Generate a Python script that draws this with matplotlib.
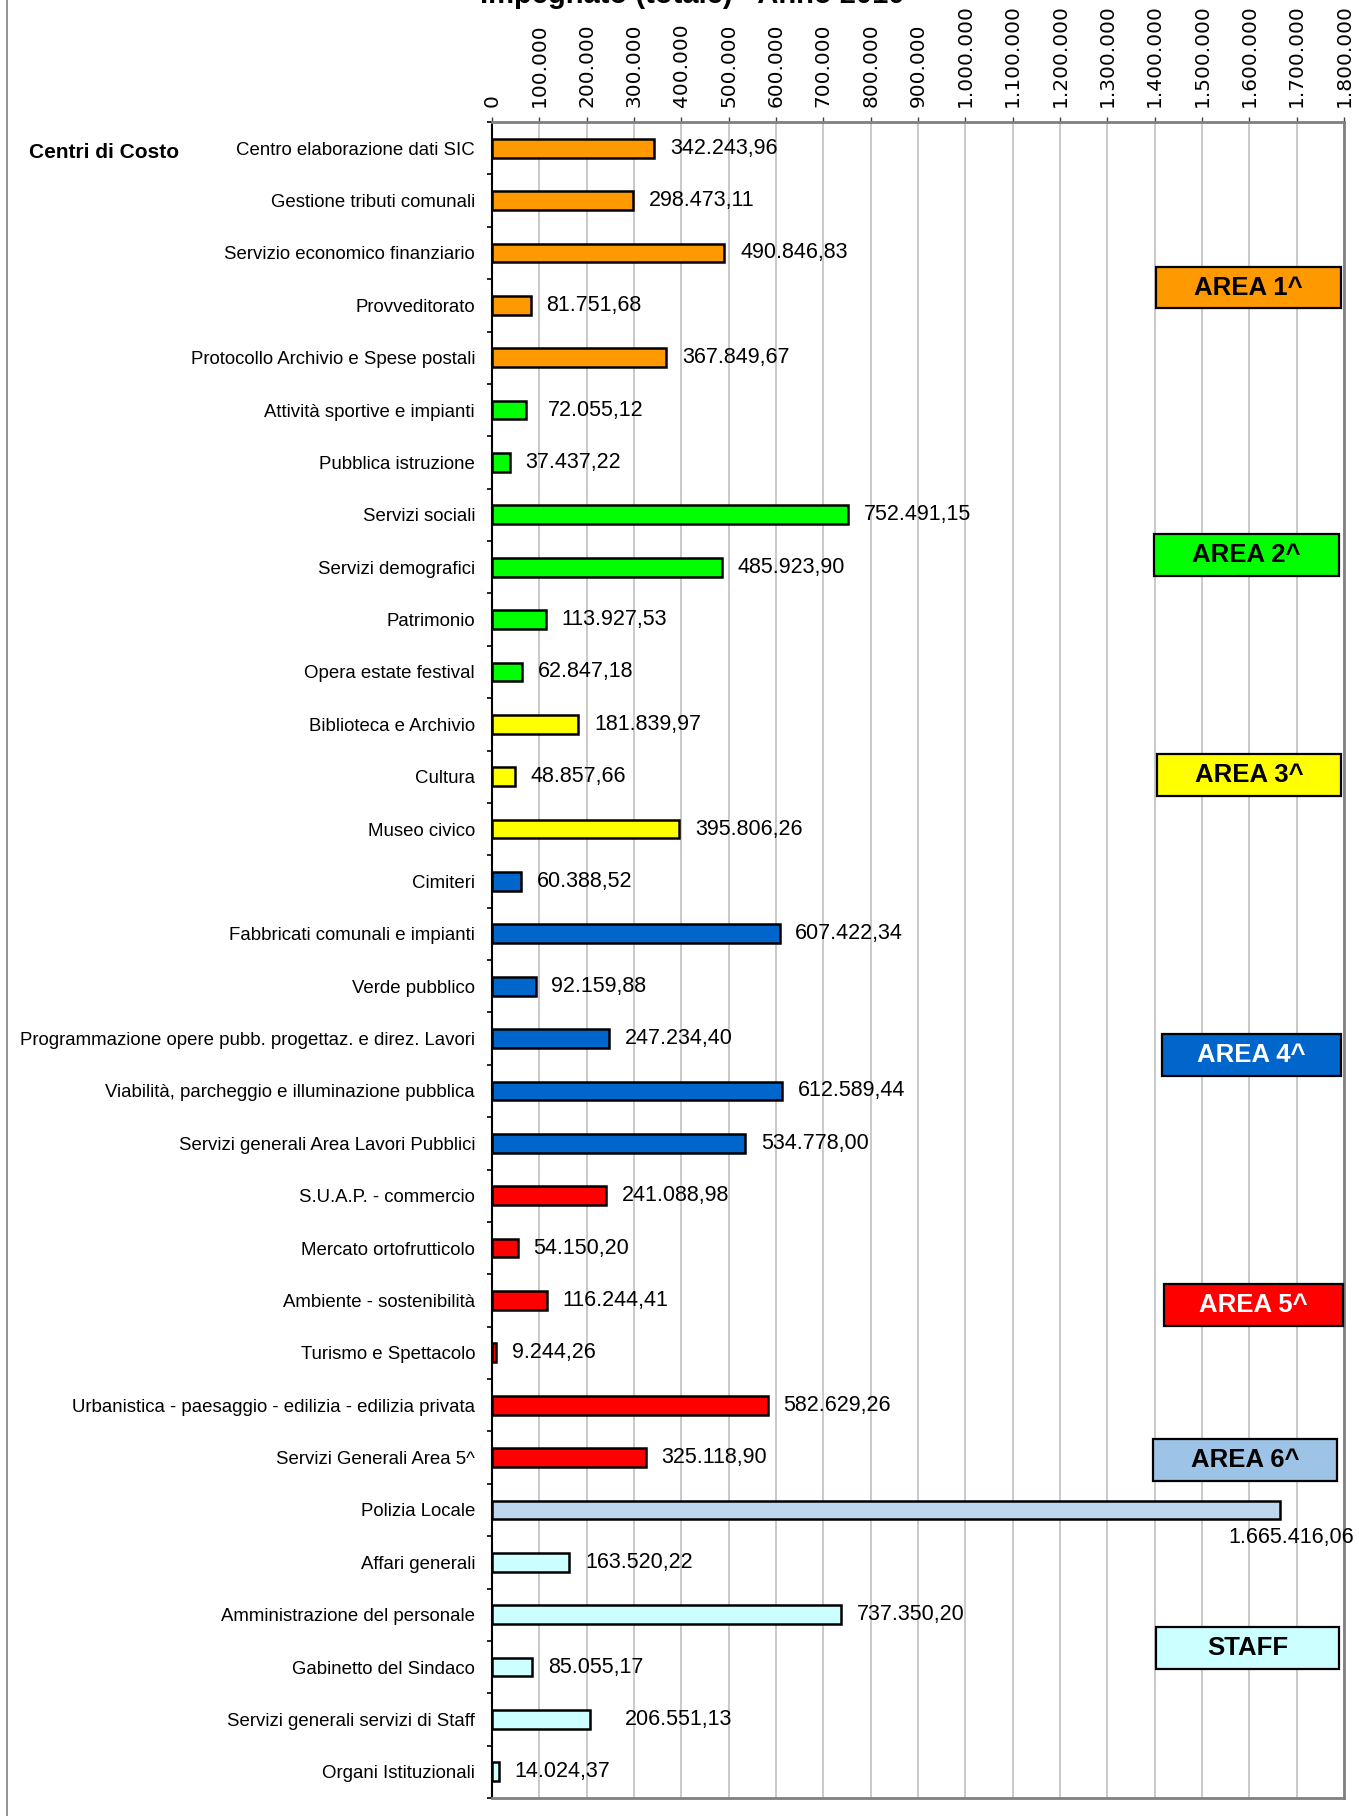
import numpy as np
import matplotlib.pyplot as plt
from matplotlib.patches import Rectangle
from matplotlib.lines import Line2D

plt.rcParams['font.family'] = ['Liberation Sans', 'DejaVu Sans']

# centri di costo, nell'ordine in cui compaiono dall'alto
centri = [
    "Centro elaborazione dati SIC",
    "Gestione tributi comunali",
    "Servizio economico finanziario",
    "Provveditorato",
    "Protocollo Archivio e Spese postali",
    "Attività sportive e impianti",
    "Pubblica istruzione",
    "Servizi sociali",
    "Servizi demografici",
    "Patrimonio",
    "Opera estate festival",
    "Biblioteca e Archivio",
    "Cultura",
    "Museo civico",
    "Cimiteri",
    "Fabbricati comunali e impianti",
    "Verde pubblico",
    "Programmazione opere pubb. progettaz. e direz. Lavori",
    "Viabilità, parcheggio e illuminazione pubblica",
    "Servizi generali Area Lavori Pubblici",
    "S.U.A.P. - commercio",
    "Mercato ortofrutticolo",
    "Ambiente - sostenibilità",
    "Turismo e Spettacolo",
    "Urbanistica - paesaggio - edilizia - edilizia privata",
    "Servizi Generali Area 5^",
    "Polizia Locale",
    "Affari generali",
    "Amministrazione del personale",
    "Gabinetto del Sindaco",
    "Servizi generali servizi di Staff",
    "Organi Istituzionali",
]

impegnato = [
    342243.96, 298473.11, 490846.83, 81751.68, 367849.67,
    72055.12, 37437.22, 752491.15, 485923.90, 113927.53, 62847.18,
    181839.97, 48857.66, 395806.26,
    60388.52, 607422.34, 92159.88, 247234.40, 612589.44, 534778.00,
    241088.98, 54150.20, 116244.41, 9244.26, 582629.26, 325118.90,
    1665416.06,
    163520.22, 737350.20, 85055.17, 206551.13, 14024.37,
]

area = (["AREA 1^"] * 5 + ["AREA 2^"] * 6 + ["AREA 3^"] * 3 + ["AREA 4^"] * 6
        + ["AREA 5^"] * 6 + ["AREA 6^"] + ["STAFF"] * 5)

xticks = np.arange(0, 1800001, 100000)

colore_barra = {
    "AREA 1^": "#FF9900", "AREA 2^": "#00FF00", "AREA 3^": "#FFFF00",
    "AREA 4^": "#0066CC", "AREA 5^": "#FF0000", "AREA 6^": "#BDD7EE",
    "STAFF": "#CCFFFF",
}

# riquadri delle aree: etichetta, centro y (in righe), x sinistra, x destra, fondo, testo
riquadri = [
    ("AREA 1^", 2.66, 1402800, 1793700, "#FF9900", "black"),
    ("AREA 2^", 7.77, 1398600, 1789500, "#00FF00", "black"),
    ("AREA 3^", 11.97, 1405000, 1793700, "#FFFF00", "black"),
    ("AREA 4^", 17.31, 1415500, 1793700, "#0066CC", "white"),
    ("AREA 5^", 22.09, 1419700, 1797900, "#FF0000", "white"),
    ("AREA 6^", 25.05, 1396500, 1785200, "#9DC3E6", "black"),
    ("STAFF", 28.64, 1402800, 1789500, "#CCFFFF", "black"),
]

# spostamenti (in punti) di alcune etichette dei valori
spostamenti = {
    "Attività sportive e impianti": (16, 0),
    "Servizi generali servizi di Staff": (25, 0),
    "Polizia Locale": (-37.7, -20),
}


def euro(v, dec=2):
    s = f"{v:,.{dec}f}"
    return s.replace(",", "#").replace(".", ",").replace("#", ".")


W, H = 1359, 1816
fig = plt.figure(figsize=(W / 100, H / 100), dpi=100)
ax = fig.add_axes([492 / W, 18 / H, 852 / W, 1676 / H])

n = len(centri)
y = np.arange(n)
ax.barh(y, impegnato, height=0.36, color=[colore_barra[a] for a in area],
        edgecolor="black", linewidth=1.8, zorder=3)

ax.set_xlim(0, 1800000)
ax.set_ylim(n - 0.5, -0.5)

# asse x in alto, etichette ruotate
ax.xaxis.tick_top()
ax.set_xticks(xticks)
ax.set_xticklabels([euro(t, 0) for t in xticks], rotation=90,
                   fontsize=14.5, family="DejaVu Sans")
ax.tick_params(axis="x", length=3.6, width=1, color="#404040", pad=7.4)
ax.grid(axis="x", color="#BBBBBB", linewidth=1.1, zorder=0)

# tacche tra le categorie, nomi al centro
ax.set_yticks(np.arange(-0.5, n, 1))
ax.set_yticklabels([])
ax.set_yticks(y, minor=True)
ax.set_yticklabels(centri, minor=True, fontsize=13.4)
ax.tick_params(axis="y", which="major", length=3.6, width=1.2, color="black")
ax.tick_params(axis="y", which="minor", length=0, pad=12.2)

for side in ("top", "right", "bottom"):
    ax.spines[side].set_color("#808080")
    ax.spines[side].set_linewidth(2)
ax.spines["left"].set_color("black")
ax.spines["left"].set_linewidth(1.5)

for i, (nome, v) in enumerate(zip(centri, impegnato)):
    dx, dy = spostamenti.get(nome, (11.4, 0))
    ax.annotate(euro(v), xy=(v, i), xytext=(dx, dy), textcoords="offset points",
                ha="left", va="center", fontsize=15.5, zorder=4,
                annotation_clip=False)

for etichetta, yc, x0, x1, fondo, col in riquadri:
    ax.add_patch(Rectangle((x0, yc - 0.4), x1 - x0, 0.8, facecolor=fondo,
                           edgecolor="black", linewidth=1.6, zorder=5,
                           clip_on=False))
    ax.text((x0 + x1) / 2, yc, etichetta, ha="center", va="center",
            fontsize=18.5, fontweight="bold", color=col, zorder=6)

fig.text(29 / W, 1 - 152 / H, "Centri di Costo", ha="left", va="center",
         fontsize=15, fontweight="bold")
# il titolo esce in parte dal bordo superiore del foglio
fig.text(692 / W, 1 - 3 / H, "Impegnato (totale) - Anno 2010", ha="center",
         va="baseline", fontsize=21, fontweight="bold")

# bordo sinistro del grafico
fig.add_artist(Line2D([6.5 / W, 6.5 / W], [0, 1], color="#808080",
                      linewidth=1.2, transform=fig.transFigure))

fig.savefig("out.png", dpi=100)
